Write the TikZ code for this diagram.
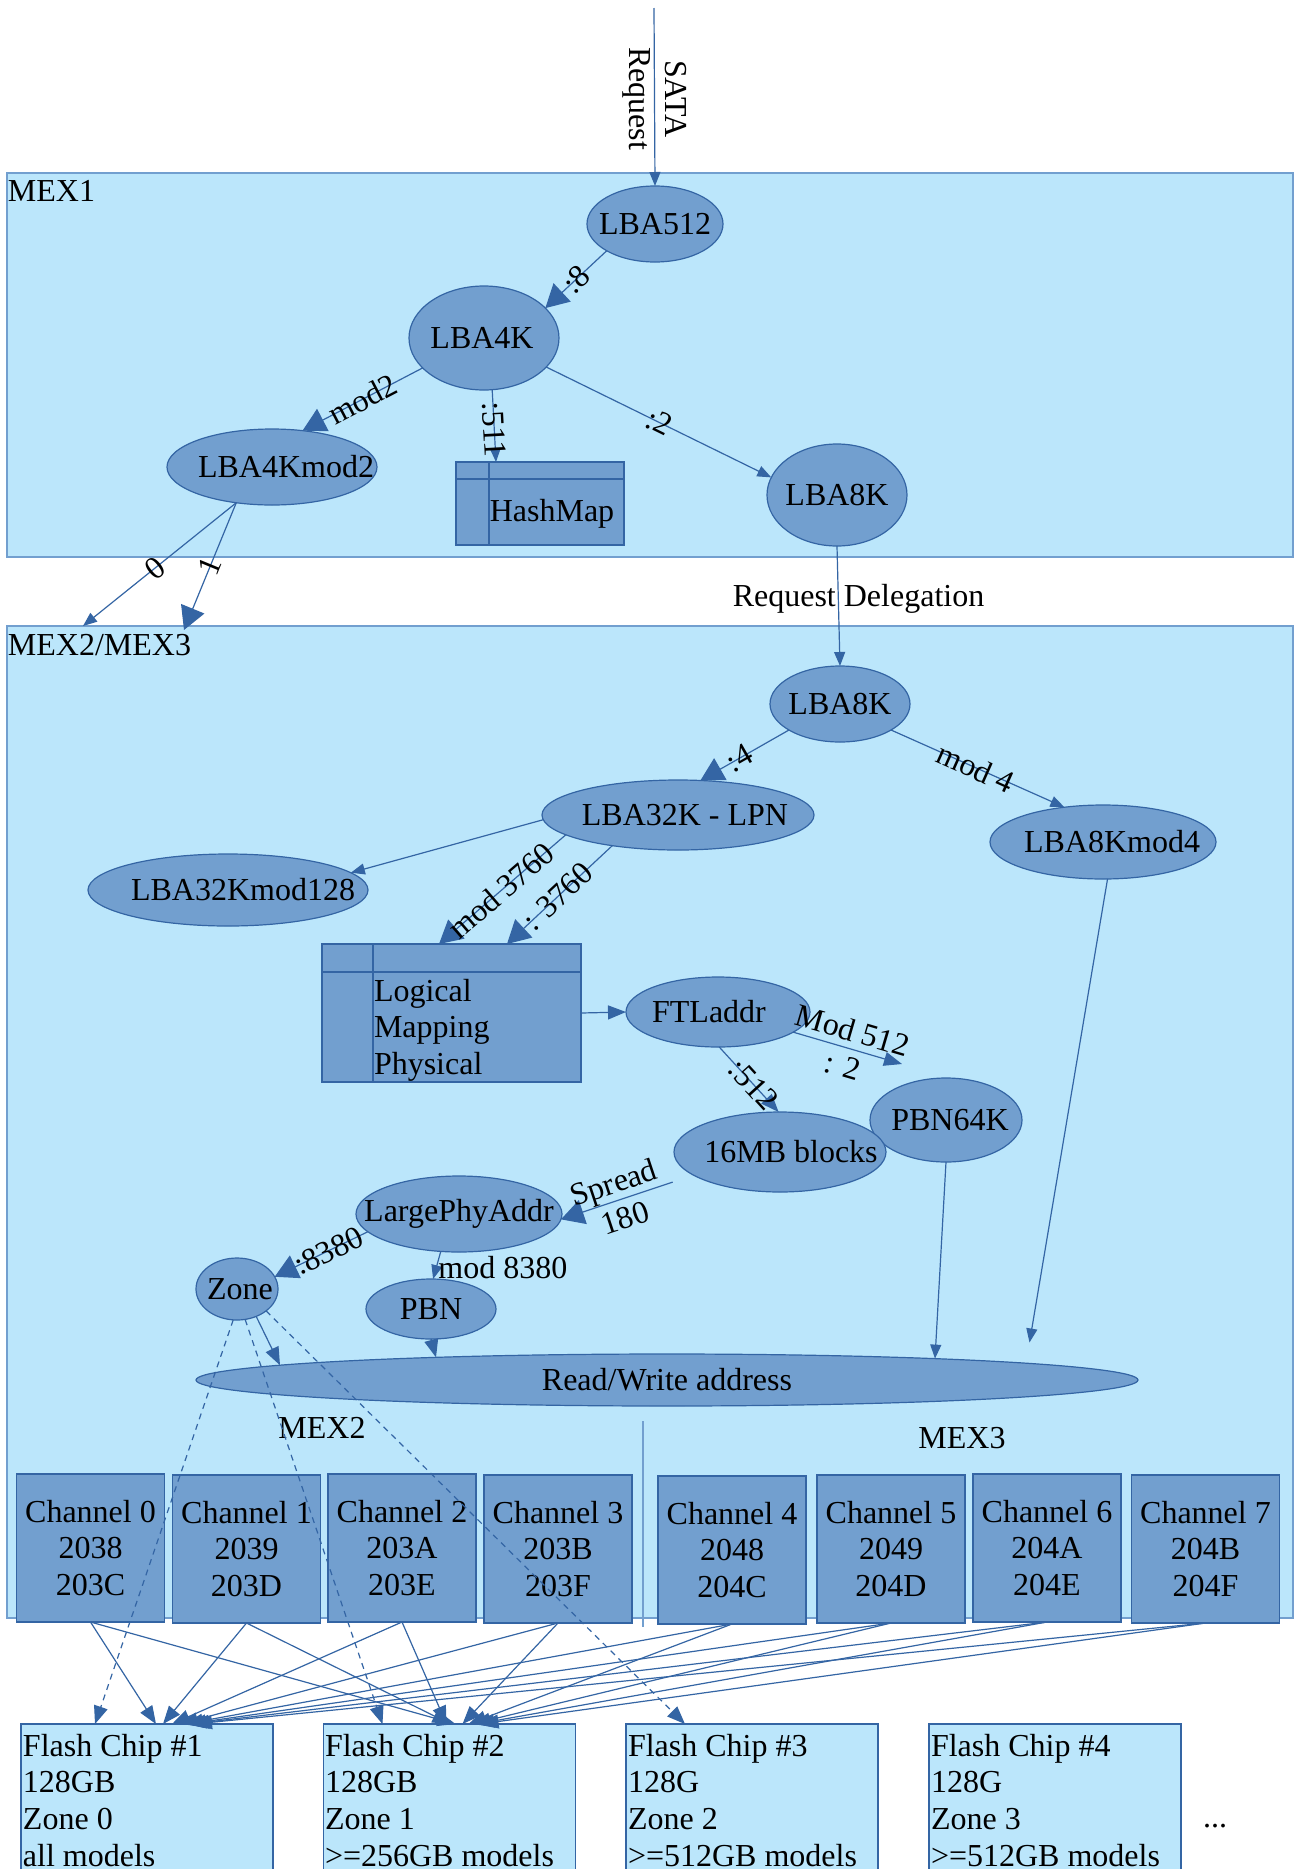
\documentclass[tikz,border=0pt]{standalone}
\usepackage{fontspec}
\setmainfont{Liberation Serif}
\usetikzlibrary{arrows.meta,shapes.geometric}
\definecolor{nf}{HTML}{729FCF}
\definecolor{bd}{HTML}{3465A4}
\definecolor{cbg}{HTML}{BBE6FB}
\newcommand{\zs}[2]{\makebox[0pt]{\hspace*{#1}#2}}
\begin{document}
\begin{tikzpicture}[x=0.5pt,y=-0.5pt,
  every node/.style={font=\fontsize{16}{18.3}\selectfont, inner sep=0pt, outer sep=0pt},
  ell/.style={ellipse, draw=bd, fill=nf, line width=0.6pt},
  cont/.style={rectangle, draw=nf, fill=cbg, line width=1pt},
  tbox/.style={rectangle, draw=bd, fill=nf, line width=0.6pt},
  chipbox/.style={rectangle, draw=bd, fill=cbg, line width=0.6pt, minimum width=126pt, minimum height=78pt},
  chan/.style={tbox, minimum width=74pt, minimum height=74pt, align=center},
  conn/.style={draw=bd, line width=0.6pt},
  big/.style={conn, -{Triangle[length=11.5pt,width=12.5pt]}},
  med/.style={conn, -{Triangle[length=9pt,width=7pt]}},
  sml/.style={conn, -{Triangle[length=7pt,width=5.5pt]}},
  dsh/.style={med, dash pattern=on 3pt off 2.5pt},
  lbl/.style={sloped, inner sep=0pt},
]
\fill[white] (0,0) rectangle (1297,1869);
\useasboundingbox (0,0) rectangle (1297,1869);

% containers
\node[cont, minimum width=643pt, minimum height=192pt] (mex1) at (650,365) {};
\node[cont, minimum width=643pt, minimum height=496pt] (mex23) at (650,1122) {};
\node[anchor=base west] (mex1l) at (8,201.5) {MEX1};
\node[anchor=base west] (mex23l) at (8,655.5) {MEX2/MEX3};

% MEX1 nodes
\node[ell, minimum width=68pt, minimum height=38pt] (lba512) at (655,224) {\zs{0pt}{LBA512}};
\node[ell, minimum width=75pt, minimum height=52pt] (lba4k) at (484,338) {\zs{-2pt}{LBA4K}};
\node[ell, minimum width=105pt, minimum height=38pt] (lba4kmod2) at (272,467) {\zs{14pt}{LBA4Kmod2}};
\node[ell, minimum width=70pt, minimum height=51pt] (lba8ka) at (837,495) {\zs{0pt}{LBA8K}};
\node[tbox, minimum width=84pt, minimum height=41.5pt] (hashmap) at (540,503.5) {};
\draw[bd, line width=0.6pt] ([xshift=16.5pt]hashmap.north west) -- ([xshift=16.5pt]hashmap.south west);
\draw[bd, line width=0.6pt] ([yshift=-8.5pt]hashmap.north west) -- ([yshift=-8.5pt]hashmap.north east);
\node[anchor=base] (hmt) at (552,521) {HashMap};

% MEX2/MEX3 nodes
\node[ell, minimum width=70pt, minimum height=38pt] (lba8kb) at (840,704) {\zs{0pt}{LBA8K}};
\node[ell, minimum width=136pt, minimum height=35pt] (lba32k) at (678,815) {\zs{7pt}{LBA32K - LPN}};
\node[ell, minimum width=113pt, minimum height=37pt] (lba8kmod4) at (1103,842) {\zs{9pt}{LBA8Kmod4}};
\node[ell, minimum width=140pt, minimum height=36pt] (lba32kmod128) at (228,890) {\zs{15pt}{LBA32Kmod128}};
\node[tbox, minimum width=129.5pt, minimum height=69pt] (lmp) at (451.5,1013) {};
\draw[bd, line width=0.6pt] ([xshift=25.5pt]lmp.north west) -- ([xshift=25.5pt]lmp.south west);
\draw[bd, line width=0.6pt] ([yshift=-14pt]lmp.north west) -- ([yshift=-14pt]lmp.north east);
\node[anchor=north west, align=left] (lmpt) at (374,979) {Logical\\Mapping\\Physical};
\node[ell, minimum width=92pt, minimum height=35pt] (ftl) at (718,1012) {\zs{-9pt}{FTLaddr}};
\node[ell, minimum width=76pt, minimum height=42pt] (pbn64k) at (946,1120) {\zs{4pt}{PBN64K}};
\node[ell, minimum width=106pt, minimum height=40pt] (mb16) at (780,1152) {\zs{11pt}{16MB blocks}};
\node[ell, minimum width=103pt, minimum height=38pt] (lpa) at (459,1214) {\zs{0pt}{LargePhyAddr}};
\node[ell, minimum width=41pt, minimum height=31pt] (zone) at (237,1289) {\zs{3pt}{Zone}};
\node[ell, minimum width=65pt, minimum height=30pt] (pbn) at (431,1309) {\zs{0pt}{PBN}};
\node[ell, minimum width=471pt, minimum height=26pt] (rw) at (667,1380) {\zs{0pt}{Read/Write address}};

\coordinate (dv1) at (643,1421);
\coordinate (dv2) at (643,1627);
\draw[nf, line width=0.8pt] (dv1) -- (dv2);
\node[anchor=base] (mex2l) at (322,1438.5) {MEX2};
\node[anchor=base] (mex3l) at (962,1448.5) {MEX3};

% channels
\node[chan] (ch0) at (90.5,1548) {Channel 0\\2038\\203C};
\node[chan] (ch1) at (246.5,1549) {Channel 1\\2039\\203D};
\node[chan] (ch2) at (402,1548) {Channel 2\\203A\\203E};
\node[chan] (ch3) at (558,1549) {Channel 3\\203B\\203F};
\node[chan] (ch4) at (732,1550) {Channel 4\\2048\\204C};
\node[chan] (ch5) at (891,1549) {Channel 5\\2049\\204D};
\node[chan] (ch6) at (1047,1548) {Channel 6\\204A\\204E};
\node[chan] (ch7) at (1205.5,1549) {Channel 7\\204B\\204F};

% flash chips
\node[chipbox] (chip1) at (147,1802) {};
\node[chipbox] (chip2) at (449.5,1802) {};
\node[chipbox] (chip3) at (752,1802) {};
\node[chipbox] (chip4) at (1055,1802) {};
\node[anchor=north west, align=left] (chip1t) at (23,1734) {Flash Chip \#1\\128GB\\Zone 0\\all models};
\node[anchor=north west, align=left] (chip2t) at (325,1734) {Flash Chip \#2\\128GB\\Zone 1\\>=256GB models};
\node[anchor=north west, align=left] (chip3t) at (628,1734) {Flash Chip \#3\\128G\\Zone 2\\>=512GB models};
\node[anchor=north west, align=left] (chip4t) at (931,1734) {Flash Chip \#4\\128G\\Zone 3\\>=512GB models};
\node[anchor=base] (dots) at (1215,1827) {...};

% connectors
\coordinate (sata) at (654,8);
\draw[sml] (sata) -- (lba512.north) node[pos=0.51, rotate=-90, align=center] {SATA\\Request};
\draw[big] (lba512.209) -- (lba4k.26) node[lbl,pos=0.5] {:8};
\draw[big] (lba4k.206) -- (lba4kmod2.50) node[lbl,pos=0.5] {mod2};
\draw[sml] (lba4k.-81) -- ([xshift=20pt]hashmap.north west) node[lbl,pos=0.55] {:511};
\draw[sml] (lba4k.-25) -- (lba8ka.165) node[lbl,pos=0.5] {:2};
\draw[sml] (lba4kmod2.225) -- ([xshift=38pt]mex23.north west) node[lbl,pos=0.53] {0};
\draw[big] (lba4kmod2.225) -- ([xshift=88.5pt,yshift=-2pt]mex23.north west) node[lbl,pos=0.5] {1};
\draw[sml] (lba8ka.south) -- (lba8kb.north) node[pos=0.504, anchor=base, xshift=10pt] {Request Delegation};
\draw[big] (lba8kb.207) -- (lba32k.57) node[lbl,pos=0.56] {:4};
\draw[sml] (lba8kb.-27) -- (lba8kmod4.138) node[lbl,pos=0.49] {mod 4};
\draw[sml] (lba32k.182) -- (lba32kmod128.8);
\draw[big] (lba32k.190) -- ([xshift=58.5pt]lmp.north west) node[lbl,pos=0.51] {mod 3760};
\draw[big] (lba32k.205) -- ([xshift=92.5pt]lmp.north west) node[lbl,pos=0.52] {: 3760};
\draw[med] (lmp.east) -- (ftl.west);
\coordinate (m512) at (902,1064);
\draw[med] (ftl.-15) -- (m512) node[lbl,pos=0.5,align=center] {Mod 512\\: 2};
\draw[med] (ftl.-88) -- (mb16.92) node[lbl,pos=0.58] {:512};
\draw[big, shorten <=11pt] (mb16.195) -- (lpa.-3) node[lbl,pos=0.56,align=center] {Spread\\180};
\draw[big] (lpa.191) -- (zone.18) node[lbl,pos=0.42] {:8380};
\draw[sml] (lpa.-116) -- (pbn.86) node[pos=0.57, anchor=west, xshift=1pt] {mod 8380};
\draw[med] (pbn.south) -- ([shift={(-115.5pt,11.3pt)}]rw.center);
\draw[sml] (pbn64k.south) -- ([shift={(134pt,10.7pt)}]rw.center);
\draw[sml, shorten >=10.5pt] (lba8kmod4.-83) -- ([shift={(179.5pt,8.4pt)}]rw.center);
\draw[med] (zone.-55) -- ([shift={(-193.5pt,7.4pt)}]rw.center);

\draw[dsh] (zone.-97) -- ([xshift=37pt]chip1.north west);
\draw[dsh] (zone.-75) -- ([xshift=29.5pt]chip2.north west);
\draw[dsh] (zone.-37) -- ([xshift=29.5pt]chip3.north west);

\foreach \c/\a/\b in {0/67.5/66, 1/71/63.5, 2/75.5/61.5, 3/79.5/69.5, 4/82/72.5, 5/83.5/74.5, 6/85/76.5, 7/86.5/78.5}{
  \draw[med] (ch\c.south) -- ([xshift=\a pt]chip1.north west);
  \draw[med] (ch\c.south) -- ([xshift=\b pt]chip2.north west);
}
\end{tikzpicture}
\end{document}
